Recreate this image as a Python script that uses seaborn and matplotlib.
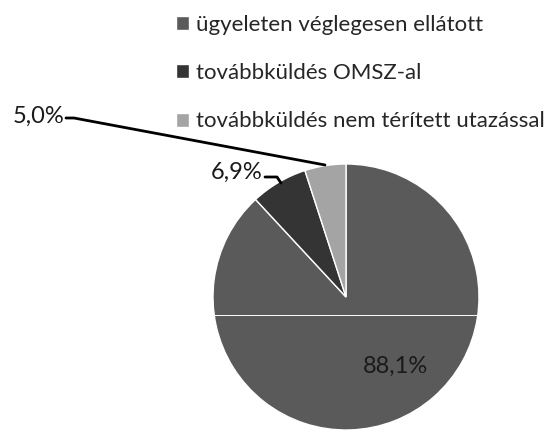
import matplotlib
matplotlib.use("Agg")
import matplotlib.pyplot as plt
import seaborn as sns

labels = ["ügyeleten véglegesen ellátott",
          "továbbküldés OMSZ-al",
          "továbbküldés nem térített utazással"]
shares = [88.1, 6.9, 5.0]
colors = ["#5a5a5a", "#343434", "#a4a4a4"]

sns.set_theme(style="white")
plt.rcParams["font.family"] = ["Lato", "DejaVu Sans"]

W, H = 546, 432
fig = plt.figure(figsize=(W / 100, H / 100), dpi=100)

def px(x, y):
    return (x / W, 1 - y / H)

FS = 16

# pie centre (346, 297), radius 133 px
cx, cy, r = 346, 297, 133
ax = fig.add_axes([(cx - r) / W, 1 - (cy + r) / H, 2 * r / W, 2 * r / H])
wedges, _ = ax.pie(shares, colors=colors, startangle=90, counterclock=False,
                   radius=1)
ax.set_xlim(-1, 1)
ax.set_ylim(-1, 1)
ax.axis("off")

# scan artefact line across the pie
ax.plot([-1, 1], [-(315 - cy) / r] * 2, color="white", lw=0.7)

def fmt(v):
    return f"{v:.1f}%".replace(".", ",")

# data labels
fig.text(*px(396, 366), fmt(shares[0]), fontsize=FS + 1, ha="center",
         va="center", color="#1a1a1a")
fig.text(*px(262, 172), fmt(shares[1]), fontsize=FS + 1, ha="right",
         va="center", color="#1a1a1a")
fig.text(*px(64, 116), fmt(shares[2]), fontsize=FS + 1, ha="right",
         va="center", color="#1a1a1a")

# leader lines
def leader(pts):
    xs = [p[0] / W for p in pts]
    ys = [1 - p[1] / H for p in pts]
    fig.add_artist(plt.Line2D(xs, ys, transform=fig.transFigure,
                              color="black", lw=2))

leader([(265, 177), (277, 177), (281, 183)])
leader([(66, 118), (74, 118), (325, 165)])

fig.legend(wedges, labels, loc="upper left", bbox_to_anchor=px(176, 15),
           frameon=False, fontsize=FS, handlelength=0.6, handleheight=0.6,
           handletextpad=0.3, labelspacing=1.27, borderpad=0,
           borderaxespad=0)

fig.savefig("out.png", dpi=100)
